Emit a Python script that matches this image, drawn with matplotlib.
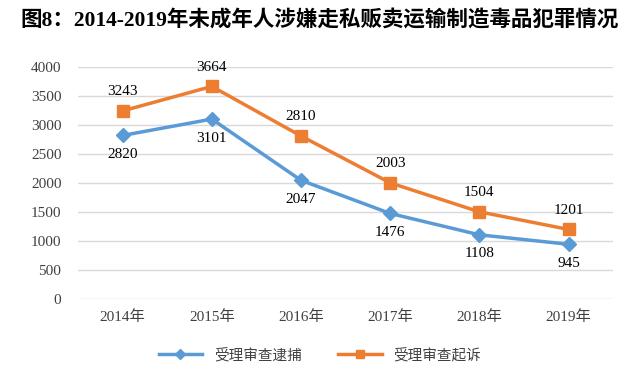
import matplotlib
matplotlib.use("Agg")
import matplotlib.pyplot as plt

plt.rcParams['font.family'] = ['Liberation Serif', 'Noto Sans CJK SC']

years = ['2014年', '2015年', '2016年', '2017年', '2018年', '2019年']
arrest = [2820, 3101, 2047, 1476, 1108, 945]
prosecute = [3243, 3664, 2810, 2003, 1504, 1201]

blue = '#5B9BD5'
orange = '#ED7D31'

fig = plt.figure(figsize=(6.4, 3.89), dpi=100)
ax = fig.add_axes([0.122, 0.231, 0.836, 0.597])

x = list(range(len(years)))
ax.plot(x, arrest, color=blue, linewidth=2.5, marker='D', markersize=7,
        label='受理审查逮捕')
ax.plot(x, prosecute, color=orange, linewidth=2.5, marker='s', markersize=8,
        label='受理审查起诉')

for i, v in enumerate(arrest):
    ax.annotate(str(v), (i, v), xytext=(0, -9), textcoords='offset points',
                ha='center', va='top', fontsize=11)
for i, v in enumerate(prosecute):
    ax.annotate(str(v), (i, v), xytext=(0, 9), textcoords='offset points',
                ha='center', va='bottom', fontsize=11)

ax.set_xlim(-0.5, 5.5)
ax.set_ylim(0, 4000)
ax.set_yticks(range(0, 4001, 500))
ax.set_xticks(x)
ax.set_xticklabels(years)
ax.tick_params(axis='both', length=0, labelsize=11, colors='#404040')
ax.tick_params(axis='y', pad=12)
ax.tick_params(axis='x', pad=8)
ax.grid(axis='y', color='#D9D9D9', linewidth=1)
ax.set_axisbelow(True)
for s in ax.spines.values():
    s.set_visible(False)

leg = fig.legend(loc='center', bbox_to_anchor=(0.5, 0.087), ncol=2,
                 frameon=False, fontsize=10.5, handlelength=3,
                 columnspacing=2.5, markerscale=0.8)
for t in leg.get_texts():
    t.set_color('#404040')

fig.text(0.5, 0.945, '图8：2014-2019年未成年人涉嫌走私贩卖运输制造毒品犯罪情况',
         ha='center', va='center', fontsize=15.5, fontweight='bold')

fig.savefig('out.png')
